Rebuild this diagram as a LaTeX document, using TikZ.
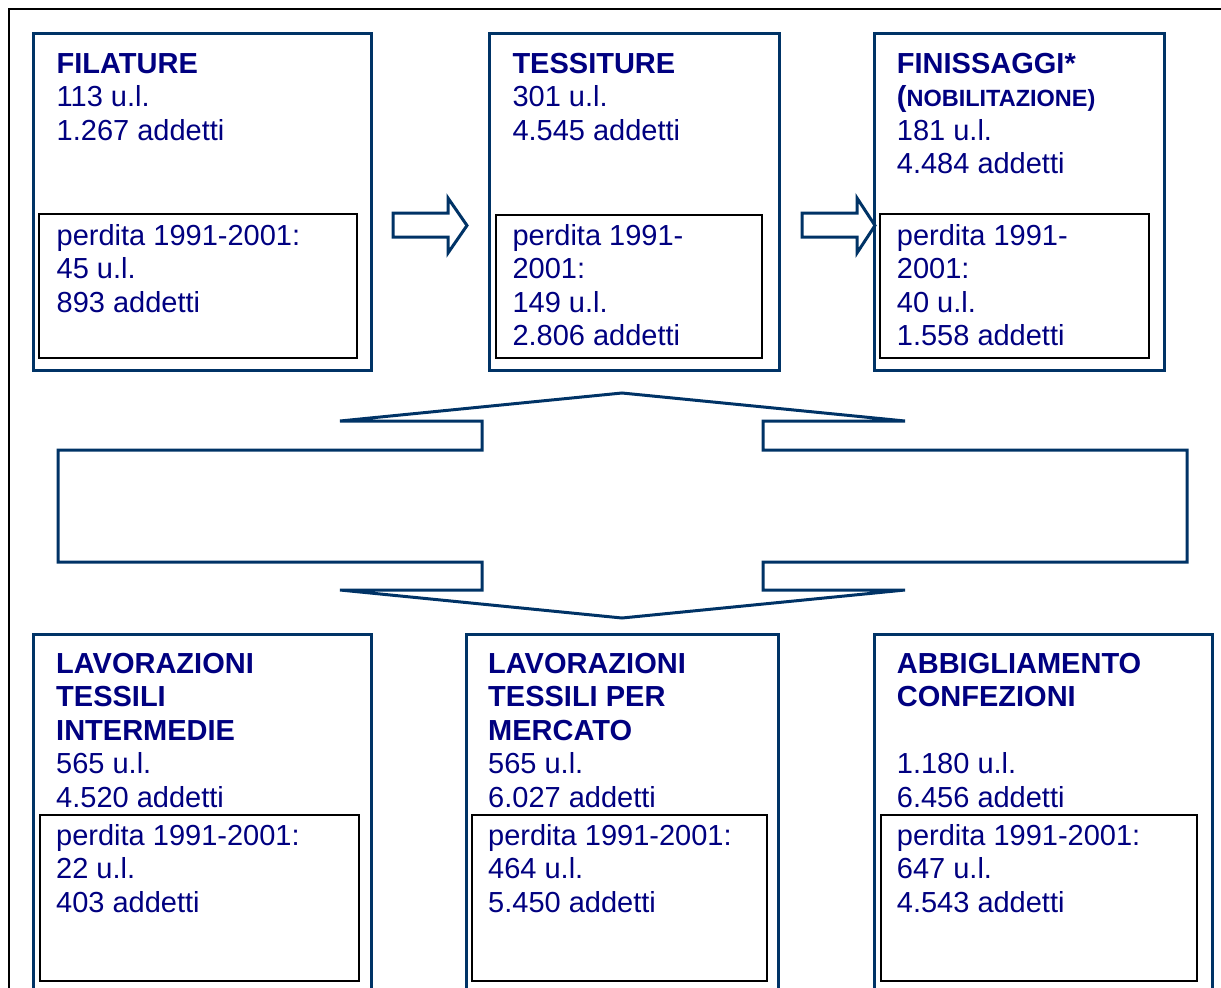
\documentclass[tikz,border=0pt]{standalone}
\usepackage{fontspec}
\setmainfont{Liberation Sans}
\definecolor{bord}{RGB}{0,51,102}
\definecolor{txt}{RGB}{0,0,128}
\begin{document}
\begin{tikzpicture}[x=1pt,y=-1pt,
  obox/.style={draw=bord,line width=3pt,inner sep=0pt,outer sep=0pt,anchor=north west},
  ibox/.style={draw=black,line width=2pt,inner sep=0pt,outer sep=0pt,anchor=north west},
  txtn/.style={inner sep=0pt,anchor=base west,text=txt,font=\fontsize{29}{33.5}\selectfont},
  barrow/.style={draw=bord,line width=3pt,line join=miter}]
\useasboundingbox (0,0) rectangle (1221,988);
\clip (0,0) rectangle (1221,988);
% outer frame
\coordinate (fbl) at (9,1000);
\coordinate (ftl) at (9,9);
\coordinate (ftr) at (1230,9);
\draw[line width=2pt] (fbl) -- (ftl) -- (ftr);
% small block arrows
\draw[barrow] (393,213) -- (448,213) -- (448,198) -- (467,225.5) -- (448,253) -- (448,237) -- (393,237) -- cycle;
\draw[barrow] (802,213) -- (857,213) -- (857,198) -- (875,225.5) -- (857,253) -- (857,237) -- (802,237) -- cycle;
% big double block arrow
\draw[barrow] (622,393) -- (905,421) -- (763,421) -- (763,450) -- (1187,450) -- (1187,562) -- (763,562) -- (763,590) -- (905,590) -- (622,618) -- (340,590) -- (482,590) -- (482,562) -- (58,562) -- (58,450) -- (482,450) -- (482,421) -- (340,421) -- cycle;
% top boxes
\node[obox,minimum width=338pt,minimum height=337pt] (fil) at (33,33) {};
\node[obox,minimum width=290pt,minimum height=337pt] (tes) at (489,33) {};
\node[obox,minimum width=290pt,minimum height=337pt] (fin) at (874,33) {};
\node[ibox,minimum width=318pt,minimum height=144pt] (fili) at (39,214) {};
\node[ibox,minimum width=266pt,minimum height=143pt] (tesi) at (496,214.5) {};
\node[ibox,minimum width=269pt,minimum height=144pt] (fini) at (880,214) {};
% bottom boxes
\node[obox,minimum width=338pt,minimum height=380pt] (lti) at (33,634) {};
\node[obox,minimum width=312pt,minimum height=380pt] (ltm) at (466,634) {};
\node[obox,minimum width=338pt,minimum height=380pt] (abb) at (874,634) {};
\node[ibox,minimum width=319pt,minimum height=166pt] (ltii) at (40,815) {};
\node[ibox,minimum width=295pt,minimum height=166pt] (ltmi) at (472,815) {};
\node[ibox,minimum width=316pt,minimum height=166pt] (abbi) at (881,815) {};
% texts top
\node[txtn] (t1) at (56.5,73.3) {\vtop{\hbox{\bfseries FILATURE}\hbox{113 u.l.}\hbox{1.267 addetti}}};
\node[txtn] (t2) at (512.3,73.3) {\vtop{\hbox{\bfseries TESSITURE}\hbox{301 u.l.}\hbox{4.545 addetti}}};
\node[txtn] (t3) at (896.7,73) {\vtop{\hbox{\bfseries FINISSAGGI*}\hbox{\bfseries(\fontsize{23.5}{33.5}\selectfont NOBILITAZIONE)}\hbox{181 u.l.}\hbox{4.484 addetti}}};
\node[txtn] (t1i) at (56.5,245) {\vtop{\hbox{perdita 1991-2001:}\hbox{45 u.l.}\hbox{893 addetti}}};
\node[txtn] (t2i) at (512.3,245) {\vtop{\hbox{perdita 1991-}\hbox{2001:}\hbox{149 u.l.}\hbox{2.806 addetti}}};
\node[txtn] (t3i) at (896.7,245) {\vtop{\hbox{perdita 1991-}\hbox{2001:}\hbox{40 u.l.}\hbox{1.558 addetti}}};
% texts bottom
\node[txtn] (b1) at (56,673) {\vtop{\hbox{\bfseries LAVORAZIONI}\hbox{\bfseries TESSILI}\hbox{\bfseries INTERMEDIE}\hbox{565 u.l.}\hbox{4.520 addetti}}};
\node[txtn] (b2) at (488,673) {\vtop{\hbox{\bfseries LAVORAZIONI}\hbox{\bfseries TESSILI PER}\hbox{\bfseries MERCATO}\hbox{565 u.l.}\hbox{6.027 addetti}}};
\node[txtn] (b3) at (896.7,673) {\vtop{\hbox{\bfseries ABBIGLIAMENTO}\hbox{\bfseries CONFEZIONI}\hbox{}\hbox{1.180 u.l.}\hbox{6.456 addetti}}};
\node[txtn] (b1i) at (56,845) {\vtop{\hbox{perdita 1991-2001:}\hbox{22 u.l.}\hbox{403 addetti}}};
\node[txtn] (b2i) at (488,845) {\vtop{\hbox{perdita 1991-2001:}\hbox{464 u.l.}\hbox{5.450 addetti}}};
\node[txtn] (b3i) at (896.7,845) {\vtop{\hbox{perdita 1991-2001:}\hbox{647 u.l.}\hbox{4.543 addetti}}};
\end{tikzpicture}
\end{document}
